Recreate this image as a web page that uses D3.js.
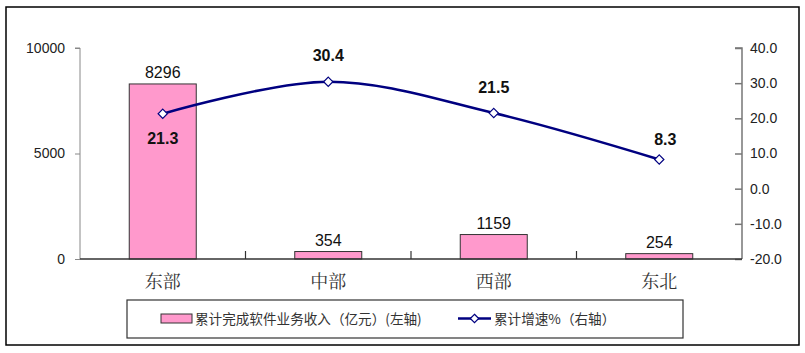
<!DOCTYPE html>
<html><head><meta charset="utf-8">
<script src="https://cdn.jsdelivr.net/npm/d3@7"></script>
<style>body{margin:0;background:#fff}svg{display:block}</style>
</head><body>
<svg id="c" width="805" height="353"></svg>
<script>
const categories = ["东部", "中部", "西部", "东北"];
const revenue = [8296, 354, 1159, 254];
const growth = [21.3, 30.4, 21.5, 8.3];
const leftTicks = [0, 5000, 10000];
const rightTicks = [-20, -10, 0, 10, 20, 30, 40];
const legendLabels = ["累计完成软件业务收入（亿元）(左轴)", "累计增速%（右轴）"];

const svg = d3.select("#c");
const L = 80, R = 742, T = 48, B = 259;
const x = d3.scaleBand().domain(categories).range([L, R]);
const yL = d3.scaleLinear().domain([0, 10000]).range([B, T]);
const yR = d3.scaleLinear().domain([-20, 40]).range([B, T]);

// outer border
svg.append("rect").attr("x", 6).attr("y", 7).attr("width", 793).attr("height", 338)
  .attr("fill", "none").attr("stroke", "#000").attr("stroke-width", 1.5);

const fontNum = "Arial, 'Liberation Sans', sans-serif";

// left axis
const gL = svg.append("g").attr("transform", `translate(${L},0)`)
  .call(d3.axisLeft(yL).tickValues(leftTicks).tickFormat(d3.format("d")).tickSize(5).tickPadding(10));
gL.select(".domain").attr("stroke", "#888").attr("d", `M-5,${T}H0V${B}`);
gL.selectAll(".tick line").attr("stroke", "#888");
gL.selectAll(".tick text").attr("font-family", fontNum).attr("font-size", 14).attr("fill", "#222");

// right axis
const gR = svg.append("g").attr("transform", `translate(${R},0)`)
  .call(d3.axisRight(yR).tickValues(rightTicks).tickFormat(d3.format(".1f")).tickSize(0).tickPadding(8));
gR.select(".domain").attr("stroke", "#777").attr("stroke-width", 1.5).attr("d", `M-7,${T}H0V${B}`);
gR.selectAll(".tick").append("line").attr("x1", -7).attr("x2", 0).attr("stroke", "#777").attr("stroke-width", 1.5);
gR.selectAll(".tick text").attr("font-family", fontNum).attr("font-size", 14).attr("fill", "#222").text(d => d3.format(".1f")(d).replace("−", "-"));

// bars
const bw = 67;
svg.selectAll(".bar").data(categories).join("rect")
  .attr("x", d => x(d) + x.bandwidth() / 2 - bw / 2)
  .attr("y", (d, i) => yL(revenue[i]))
  .attr("width", bw)
  .attr("height", (d, i) => B - yL(revenue[i]))
  .attr("fill", "#FF99CC").attr("stroke", "#333").attr("stroke-width", 1);

// category axis
const gX = svg.append("g").attr("transform", `translate(0,${B})`)
  .call(d3.axisBottom(x).tickSize(0).tickPadding(16));
gX.select(".domain").attr("stroke", "#333").attr("stroke-width", 1.5).attr("d", `M${L},0H${R}`);
gX.selectAll(".tick text").attr("font-family", "'Noto Serif CJK SC','Noto Sans CJK SC', serif")
  .attr("font-size", 18).attr("fill", "#333");
// separators
svg.selectAll(".sep").data(categories.slice(1)).join("line")
  .attr("x1", d => x(d)).attr("x2", d => x(d)).attr("y1", B - 8).attr("y2", B)
  .attr("stroke", "#333").attr("stroke-width", 1.2);

// bar labels
svg.selectAll(".bl").data(categories).join("text")
  .attr("x", d => x(d) + x.bandwidth() / 2)
  .attr("y", (d, i) => yL(revenue[i]) - 6)
  .attr("text-anchor", "middle").attr("font-family", fontNum).attr("font-size", 16).attr("fill", "#111")
  .text((d, i) => revenue[i]);

// line
const pts = categories.map((c, i) => [x(c) + x.bandwidth() / 2, yR(growth[i])]);
svg.append("path").attr("d", d3.line().curve(d3.curveCatmullRom.alpha(0.5))(pts))
  .attr("fill", "none").attr("stroke", "#000080").attr("stroke-width", 2.6);
svg.selectAll(".mk").data(pts).join("path")
  .attr("transform", d => `translate(${d[0]},${d[1]})`)
  .attr("d", d3.symbol().type(d3.symbolDiamond2).size(55))
  .attr("fill", "#fff").attr("stroke", "#000080").attr("stroke-width", 1.2);

// line labels
const lblOff = [[0, 30], [0, -21], [0, -20], [6, -14]];
svg.selectAll(".ll").data(pts).join("text")
  .attr("x", (d, i) => d[0] + lblOff[i][0])
  .attr("y", (d, i) => d[1] + lblOff[i][1])
  .attr("text-anchor", "middle").attr("font-family", fontNum).attr("font-size", 16)
  .attr("font-weight", "bold").attr("fill", "#111")
  .text((d, i) => growth[i].toFixed(1));

// legend
svg.append("rect").attr("x", 127).attr("y", 300).attr("width", 556).attr("height", 38)
  .attr("fill", "#fff").attr("stroke", "#333").attr("stroke-width", 1.2);
svg.append("rect").attr("x", 161).attr("y", 314).attr("width", 31).attr("height", 9)
  .attr("fill", "#FF99CC").attr("stroke", "#333").attr("stroke-width", 1);
svg.append("text").attr("x", 195).attr("y", 323.5).attr("font-family", "'Noto Sans CJK SC', sans-serif")
  .attr("font-size", 13.6).attr("fill", "#333").text(legendLabels[0]);
svg.append("line").attr("x1", 458).attr("x2", 491).attr("y1", 318.5).attr("y2", 318.5)
  .attr("stroke", "#000080").attr("stroke-width", 2.6);
svg.append("path").attr("transform", "translate(474.5,318.5)")
  .attr("d", d3.symbol().type(d3.symbolDiamond2).size(45))
  .attr("fill", "#fff").attr("stroke", "#000080").attr("stroke-width", 1.2);
svg.append("text").attr("x", 494).attr("y", 323.5).attr("font-family", "'Noto Sans CJK SC', sans-serif")
  .attr("font-size", 13.6).attr("fill", "#333").text(legendLabels[1]);
</script>
</body></html>
